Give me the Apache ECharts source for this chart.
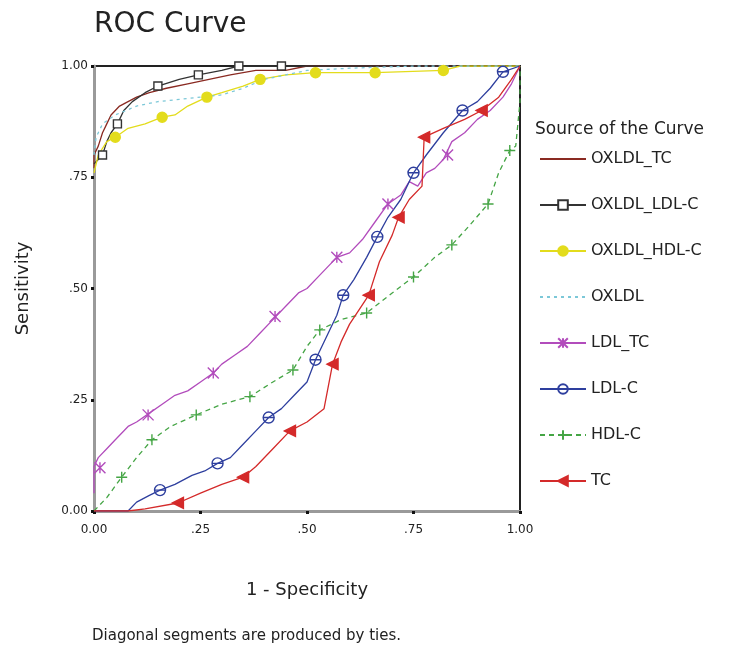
<!DOCTYPE html>
<html>
<head>
<meta charset="utf-8">
<script src="https://cdn.jsdelivr.net/npm/echarts@6/dist/echarts.min.js"></script>
<style>html,body{margin:0;padding:0;background:#fff}#c{width:729px;height:650px}</style>
</head>
<body>
<div id="c"></div>
<script>
// ---- Data ----
const seriesNames = ['OXLDL_TC', 'OXLDL_LDL-C', 'OXLDL_HDL-C', 'OXLDL', 'LDL_TC', 'LDL-C', 'HDL-C', 'TC'];
const axisTicks = [0, 0.25, 0.5, 0.75, 1];

const curveOXLDL_TC = [[0,0.77],[0,0.80],[0.01,0.82],[0.02,0.85],[0.03,0.87],[0.04,0.89],[0.06,0.91],[0.08,0.92],[0.10,0.93],[0.13,0.94],[0.17,0.95],[0.22,0.96],[0.27,0.97],[0.32,0.98],[0.38,0.99],[0.45,0.99],[0.50,1.0],[1,1]];
const markOXLDL_TC = [];

const curveOXLDL_LDLC = [[0,0.78],[0.01,0.79],[0.02,0.80],[0.03,0.83],[0.04,0.85],[0.055,0.87],[0.07,0.90],[0.09,0.92],[0.12,0.94],[0.15,0.955],[0.20,0.97],[0.245,0.98],[0.30,0.99],[0.34,1.0],[1,1]];
const markOXLDL_LDLC = [[0.02,0.80],[0.055,0.87],[0.15,0.955],[0.245,0.98],[0.34,1.0],[0.44,1.0]];

const curveOXLDL_HDLC = [[0,0.76],[0.01,0.80],[0.03,0.83],[0.05,0.84],[0.08,0.86],[0.12,0.87],[0.16,0.885],[0.19,0.89],[0.22,0.91],[0.265,0.93],[0.30,0.94],[0.35,0.955],[0.39,0.97],[0.45,0.98],[0.52,0.985],[0.66,0.985],[0.82,0.99],[0.86,1.0],[1,1]];
const markOXLDL_HDLC = [[0.05,0.84],[0.16,0.885],[0.265,0.93],[0.39,0.97],[0.52,0.985],[0.66,0.985],[0.82,0.99]];

const curveOXLDL = [[0,0.80],[0.005,0.84],[0.02,0.87],[0.05,0.89],[0.10,0.91],[0.15,0.92],[0.20,0.925],[0.30,0.935],[0.35,0.95],[0.40,0.97],[0.45,0.98],[0.50,0.99],[0.60,0.995],[0.75,1.0],[1,1]];
const markOXLDL = [];

const curveLDL_TC = [[0,0.04],[0,0.10],[0.01,0.12],[0.03,0.14],[0.05,0.16],[0.08,0.19],[0.10,0.20],[0.13,0.22],[0.16,0.24],[0.19,0.26],[0.22,0.27],[0.25,0.29],[0.28,0.31],[0.30,0.33],[0.33,0.35],[0.36,0.37],[0.39,0.40],[0.42,0.43],[0.45,0.46],[0.48,0.49],[0.50,0.50],[0.53,0.53],[0.57,0.57],[0.60,0.58],[0.63,0.61],[0.66,0.65],[0.69,0.69],[0.72,0.71],[0.74,0.74],[0.76,0.73],[0.78,0.76],[0.80,0.77],[0.82,0.79],[0.84,0.83],[0.87,0.85],[0.90,0.88],[0.93,0.90],[0.96,0.93],[0.98,0.96],[1,1]];
const markLDL_TC = [[0.014,0.097],[0.127,0.216],[0.28,0.31],[0.425,0.437],[0.57,0.57],[0.69,0.69],[0.83,0.80]];

const curveLDLC = [[0,0],[0.08,0],[0.10,0.02],[0.13,0.035],[0.155,0.047],[0.19,0.06],[0.23,0.08],[0.26,0.09],[0.29,0.107],[0.32,0.12],[0.35,0.15],[0.38,0.18],[0.41,0.21],[0.44,0.23],[0.47,0.26],[0.50,0.29],[0.52,0.34],[0.55,0.40],[0.57,0.44],[0.585,0.485],[0.61,0.52],[0.64,0.57],[0.665,0.616],[0.69,0.66],[0.72,0.70],[0.75,0.76],[0.78,0.80],[0.82,0.85],[0.865,0.90],[0.90,0.92],[0.93,0.95],[0.96,0.987],[1,1]];
const markLDLC = [[0.155,0.047],[0.29,0.107],[0.41,0.21],[0.52,0.34],[0.585,0.485],[0.665,0.616],[0.75,0.76],[0.865,0.90],[0.96,0.987]];

const curveHDLC = [[0,0],[0.03,0.03],[0.065,0.076],[0.10,0.12],[0.136,0.16],[0.18,0.19],[0.24,0.216],[0.30,0.24],[0.366,0.257],[0.42,0.29],[0.467,0.317],[0.50,0.37],[0.53,0.407],[0.58,0.43],[0.64,0.445],[0.70,0.49],[0.75,0.526],[0.80,0.57],[0.84,0.598],[0.88,0.64],[0.925,0.69],[0.95,0.76],[0.976,0.81],[0.99,0.82],[1,0.92],[1,1]];
const markHDLC = [[0.065,0.076],[0.136,0.16],[0.24,0.216],[0.366,0.257],[0.467,0.317],[0.53,0.407],[0.64,0.445],[0.75,0.526],[0.84,0.598],[0.925,0.69],[0.976,0.81]];

const curveTC = [[0,0],[0.08,0],[0.12,0.005],[0.197,0.018],[0.25,0.04],[0.30,0.06],[0.35,0.076],[0.38,0.10],[0.42,0.14],[0.46,0.18],[0.50,0.20],[0.54,0.23],[0.56,0.33],[0.58,0.38],[0.60,0.42],[0.645,0.485],[0.67,0.56],[0.70,0.62],[0.715,0.66],[0.74,0.70],[0.77,0.73],[0.775,0.84],[0.82,0.86],[0.87,0.88],[0.91,0.90],[0.95,0.93],[0.98,0.97],[1,1]];
const markTC = [[0.197,0.018],[0.35,0.076],[0.46,0.18],[0.56,0.33],[0.645,0.485],[0.715,0.66],[0.775,0.84],[0.91,0.90]];

// ---- Styles ----
const FONT = 'DejaVu Sans';
const styles = [
  {curve: curveOXLDL_TC, marks: markOXLDL_TC, color: '#8a2a22', type: 'solid', symbol: 'none', fill: '#8a2a22', size: 0},
  {curve: curveOXLDL_LDLC, marks: markOXLDL_LDLC, color: '#333333', type: 'solid', symbol: 'rect', fill: '#ffffff', size: 8},
  {curve: curveOXLDL_HDLC, marks: markOXLDL_HDLC, color: '#e3dc1c', type: 'solid', symbol: 'circle', fill: '#e3dc1c', size: 10},
  {curve: curveOXLDL, marks: markOXLDL, color: '#7cc8d8', type: [3, 4], symbol: 'none', fill: '#7cc8d8', size: 0},
  {curve: curveLDL_TC, marks: markLDL_TC, color: '#b24cbc', type: 'solid', symbol: 'path://M0,0L10,10M10,0L0,10M5,0L5,10', fill: 'none', size: 11},
  {curve: curveLDLC, marks: markLDLC, color: '#2e3f9e', type: 'solid', symbol: 'path://M0,5A5,5,0,1,1,10,5A5,5,0,1,1,0,5ZM0,5L10,5', fill: 'none', size: 11},
  {curve: curveHDLC, marks: markHDLC, color: '#45a545', type: [5, 4], symbol: 'path://M0,5L10,5M5,0L5,10', fill: 'none', size: 11},
  {curve: curveTC, marks: markTC, color: '#d42a2a', type: 'solid', symbol: 'triangle', fill: '#d42a2a', size: 11}
];

const series = [];
styles.forEach((s, i) => {
  series.push({
    name: seriesNames[i], type: 'line', data: s.curve, showSymbol: false,
    symbol: s.symbol, symbolSize: s.size, symbolRotate: s.symbol === 'triangle' ? 90 : 0,
    lineStyle: {color: s.color, width: 1.3, type: s.type},
    itemStyle: {color: s.fill, borderColor: s.color, borderWidth: 1.4},
    silent: true, animation: false, z: 2 + i * 0.01
  });
  if (s.marks.length) {
    series.push({
      name: seriesNames[i] + ' markers', type: 'scatter', data: s.marks,
      symbol: s.symbol, symbolSize: s.size, symbolRotate: s.symbol === 'triangle' ? 90 : 0,
      itemStyle: {color: s.fill, borderColor: s.color, borderWidth: 1.4, opacity: 1},
      silent: true, animation: false, z: 3
    });
  }
});

const legendData = seriesNames.map((n, i) => styles[i].symbol === 'none'
  ? {name: n, itemStyle: {opacity: 0}}
  : {name: n});

const fmt = v => v === 0 ? '0.00' : (v === 1 ? '1.00' : ('.' + Math.round(v * 100)));

const axisCommon = {
  type: 'value', min: 0, max: 1, interval: 0.25,
  axisLine: {show: true, lineStyle: {color: '#9a9a9a', width: 3}},
  axisTick: {show: true, length: 3, lineStyle: {color: '#111', width: 3}},
  splitLine: {show: false},
  axisLabel: {formatter: fmt, fontFamily: FONT, fontSize: 12, color: '#222'},
  nameTextStyle: {fontFamily: FONT, fontSize: 18, color: '#222'}
};

const chart = echarts.init(document.getElementById('c'), null, {renderer: 'canvas'});
chart.setOption({
  animation: false,
  backgroundColor: '#fff',
  title: [
    {text: 'ROC Curve', left: 89, top: 6, textStyle: {fontFamily: FONT, fontSize: 28, fontWeight: 'normal', color: '#222'}},
    {text: 'Source of the Curve', left: 530, top: 116, textStyle: {fontFamily: FONT, fontSize: 17, fontWeight: 'normal', color: '#222'}},
    {text: 'Diagonal segments are produced by ties.', left: 87, top: 624, textStyle: {fontFamily: FONT, fontSize: 15, fontWeight: 'normal', color: '#222'}}
  ],
  grid: {left: 94, right: 209, top: 66, bottom: 139, show: true, borderColor: '#222', borderWidth: 2, backgroundColor: '#fff'},
  xAxis: Object.assign({}, axisCommon, {name: '1 - Specificity', nameLocation: 'middle', nameGap: 70,
    axisLabel: Object.assign({}, axisCommon.axisLabel, {margin: 13})}),
  yAxis: Object.assign({}, axisCommon, {name: 'Sensitivity', nameLocation: 'middle', nameGap: 62,
    axisLabel: Object.assign({}, axisCommon.axisLabel, {margin: 6})}),
  legend: {
    data: legendData, orient: 'vertical', left: 534, top: 146,
    itemWidth: 46, itemHeight: 12, itemGap: 30,
    textStyle: {fontFamily: FONT, fontSize: 16, color: '#222'},
    selectedMode: false
  },
  series: series
});
</script>
</body>
</html>
